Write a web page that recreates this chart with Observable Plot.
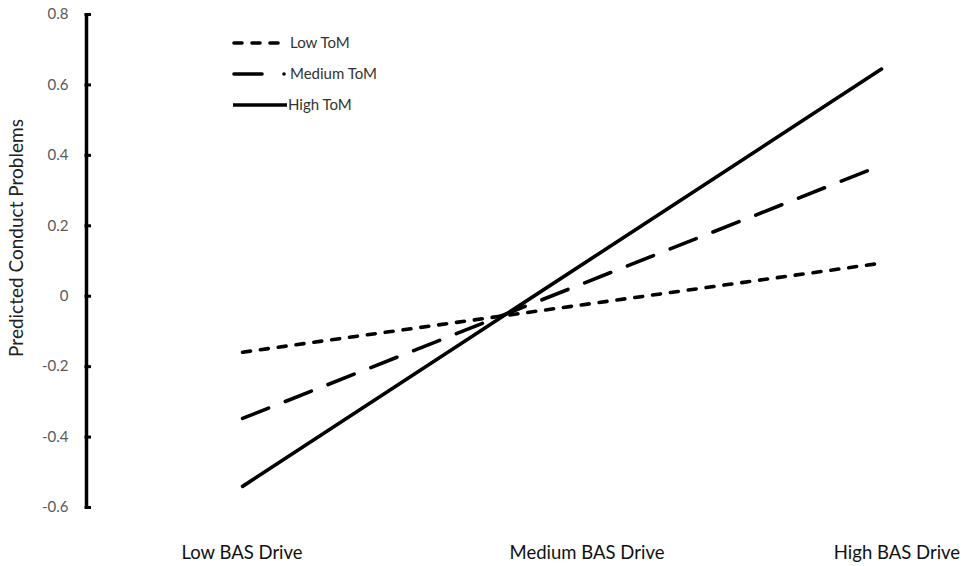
<!DOCTYPE html>
<html>
<head>
<meta charset="utf-8">
<script src="https://cdn.jsdelivr.net/npm/d3@7"></script>
<script src="https://cdn.jsdelivr.net/npm/@observablehq/plot@0.6"></script>
<style>
  html, body { margin: 0; padding: 0; background: #fff; }
  #chart { position: relative; width: 968px; height: 566px; }
</style>
</head>
<body>
<div id="chart"></div>
<script>
// Categories (BAS Drive level) and series (ToM level)
const categories = ["Low BAS Drive", "Medium BAS Drive", "High BAS Drive"];
const seriesNames = ["Low ToM", "Medium ToM", "High ToM"];
// Predicted values at Low and High BAS Drive for each series
const lowToM = [-0.159, 0.094];
const mediumToM = [-0.347, 0.372];
const highToM = [-0.540, 0.645];
const yTicks = [-0.6, -0.4, -0.2, 0, 0.2, 0.4, 0.6, 0.8];
const yLabel = "Predicted Conduct Problems";

const FONT = "Lato, 'Open Sans', sans-serif";
const seriesValues = [lowToM, mediumToM, highToM];
const dashes = ["8,10", "28,18", "none"];
const endIdx = [0, 2]; // lines span low -> high category
const X0 = -0.4885;    // axis position in category units (left of Low BAS Drive)

const lineData = [];
seriesNames.forEach((s, si) => {
  seriesValues[si].forEach((v, j) => lineData.push({series: s, x: endIdx[j], y: v}));
});

const marks = [];
// y axis line
marks.push(Plot.ruleX([X0], {y1: -0.6, y2: 0.8, stroke: "#000", strokeWidth: 3.5}));
// y ticks (short, to the right of the axis)
marks.push(Plot.ruleY(yTicks, {y: d => d, x1: X0, x2: X0, insetLeft: -1.5, insetRight: -5, stroke: "#000", strokeWidth: 3}));
// y tick labels
marks.push(Plot.axisY({ticks: yTicks, tickSize: 0, tickPadding: 18, tickFormat: d => String(+d.toFixed(1)), fontSize: 15, fill: "#595959", label: null, anchor: "left"}));
// series lines
seriesNames.forEach((s, si) => {
  marks.push(Plot.line(lineData.filter(d => d.series === s), {
    x: "x", y: "y", stroke: "#000", strokeWidth: 3.6,
    strokeDasharray: dashes[si], strokeLinecap: "round"
  }));
});

const plot = Plot.plot({
  width: 968, height: 566,
  marginLeft: 86, marginRight: 87, marginTop: 14, marginBottom: 59,
  x: {type: "linear", domain: [X0, 2], axis: null},
  y: {type: "linear", domain: [-0.6, 0.8], axis: null},
  style: {fontSize: "14px", fontFamily: FONT, background: "#fff", overflow: "visible"},
  marks
});

const svg = d3.select(plot);
const xs = d3.scaleLinear().domain([0, 2]).range([242, 881]);
// category labels (Excel offsets labels; shift computed in code)
const labelShift = [0, 345 - 319.5, 897 - 881];
svg.append("g").attr("font-size", 18.5).attr("fill", "#111").attr("font-family", FONT)
  .selectAll("text").data(categories).join("text")
  .attr("x", (d, i) => xs(i) + labelShift[i])
  .attr("y", 559)
  .attr("text-anchor", "middle")
  .text(d => d);
// y axis title
svg.append("text")
  .attr("transform", "translate(23,238) rotate(-90)")
  .attr("text-anchor", "middle")
  .attr("font-size", 19)
  .attr("font-family", FONT)
  .attr("fill", "#222")
  .text(yLabel);
// legend
const leg = svg.append("g").attr("aria-label", "legend").attr("font-family", FONT).attr("text-anchor", "start");
const legY = [43, 74, 105];
seriesNames.forEach((s, i) => {
  const g = leg.append("g");
  if (i === 0) {
    g.append("line").attr("x1", 234).attr("x2", 282).attr("y1", legY[i]).attr("y2", legY[i])
      .attr("stroke", "#000").attr("stroke-width", 3.6).attr("stroke-dasharray", "8,10").attr("stroke-linecap", "round");
  } else if (i === 1) {
    g.append("line").attr("x1", 234).attr("x2", 262).attr("y1", legY[i]).attr("y2", legY[i])
      .attr("stroke", "#000").attr("stroke-width", 3.6).attr("stroke-linecap", "round");
    g.append("circle").attr("cx", 284).attr("cy", legY[i]).attr("r", 1.8).attr("fill", "#000");
  } else {
    g.append("line").attr("x1", 233).attr("x2", 287).attr("y1", legY[i]).attr("y2", legY[i])
      .attr("stroke", "#000").attr("stroke-width", 3.6);
  }
  g.append("text").attr("x", i === 2 ? 288 : 290).attr("y", legY[i] + 5)
    .attr("text-anchor", "start")
    .attr("font-size", 15).attr("fill", "#333").text(s);
});

document.getElementById("chart").appendChild(plot);
</script>
</body>
</html>
